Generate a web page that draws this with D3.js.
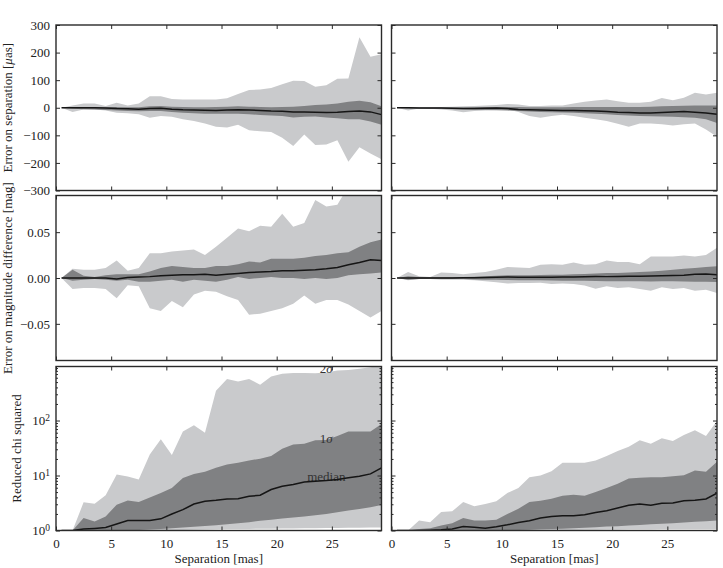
<!DOCTYPE html>
<html>
<head>
<meta charset="utf-8">
<script src="https://cdn.jsdelivr.net/npm/d3@7"></script>
<style>
  html, body { margin: 0; padding: 0; background: #fff; }
  svg text { font-family: "Liberation Serif", "Times New Roman", Times, "DejaVu Serif", serif; font-size: 13px; fill: #222; }
</style>
</head>
<body>
<svg id="chart" width="723" height="568"></svg>
<script>
// ---------------- DATA ----------------
const separation = [0.5, 1.5, 2.5, 3.5, 4.5, 5.5, 6.5, 7.5, 8.5, 9.5, 10.5, 11.5, 12.5, 13.5, 14.5,
  15.5, 16.5, 17.5, 18.5, 19.5, 20.5, 21.5, 22.5, 23.5, 24.5, 25.5, 26.5, 27.5, 28.5, 29.5];

// Error on separation [μas], left column
const sepL_hi2 = [0, 8, 15, 15, 6, 18, 8, 15, 42, 42, 32, 30, 30, 30, 30, 34, 50, 64, 66, 72, 85, 98, 97, 76, 82, 105, 106, 256, 185, 194];
const sepL_hi1 = [0, 3, 3, 2, 2, 3, 2, 2, 5, 6, 4, 3, 2, 2, 3, 4, 5, 4, 3, 2, 3, 4, 6, 10, 12, 15, 22, 25, 20, 5];
const sepL_med = [0, 0, 0, 0, -1, -3, -4, -5, -3, -2, -5, -7, -8, -9, -10, -8, -7, -8, -10, -12, -13, -15, -15, -16, -17, -16, -14, -12, -15, -25];
const sepL_lo1 = [0, -4, -5, -6, -8, -10, -12, -13, -12, -12, -15, -18, -20, -22, -22, -22, -22, -24, -26, -28, -30, -35, -33, -32, -35, -38, -42, -42, -50, -62];
const sepL_lo2 = [0, -15, -6, -6, -10, -18, -20, -24, -36, -30, -33, -42, -48, -57, -69, -72, -62, -82, -85, -88, -109, -139, -97, -135, -133, -118, -196, -143, -166, -187];

// Error on separation [μas], right column
const sepR_hi2 = [0, 2, 2, 2, 3, 4, 5, 6, 8, 10, 14, 12, 6, 6, 8, 8, 15, 22, 26, 30, 24, 18, 18, 22, 35, 27, 36, 54, 48, 54];
const sepR_hi1 = [0, 1, 1, 1, 1, 1, 1, 2, 3, 3, 3, 3, 2, 2, 2, 2, 3, 3, 3, 3, 3, 3, 3, 4, 5, 6, 7, 8, 8, 8];
const sepR_med = [0, 0, -1, -1, -1, -2, -3, -3, -2, -1, -3, -6, -7, -8, -9, -10, -10, -11, -12, -14, -16, -17, -19, -19, -17, -15, -14, -16, -19, -24];
const sepR_lo1 = [0, -3, -3, -4, -4, -5, -6, -7, -8, -9, -10, -12, -14, -15, -16, -17, -18, -20, -22, -24, -26, -28, -30, -31, -32, -33, -34, -36, -42, -55];
const sepR_lo2 = [0, -10, -3, -4, -6, -10, -16, -12, -10, -8, -6, -15, -30, -36, -30, -25, -30, -36, -42, -48, -58, -69, -57, -57, -60, -64, -60, -57, -79, -105];

// Error on magnitude difference [mag], left column
const magL_hi2 = [0, 0.010, 0.009, 0.009, 0.011, 0.019, 0.008, 0.011, 0.027, 0.027, 0.029, 0.030, 0.031, 0.025, 0.034, 0.044, 0.054, 0.051, 0.057, 0.056, 0.070, 0.056, 0.060, 0.085, 0.078, 0.080, 0.100, 0.105, 0.110, 0.110];
const magL_hi1 = [0, 0.009, 0.0025, 0.001, 0.003, 0.004, 0.004, 0.004, 0.007, 0.011, 0.013, 0.012, 0.011, 0.011, 0.013, 0.013, 0.015, 0.018, 0.017, 0.021, 0.021, 0.021, 0.022, 0.024, 0.025, 0.027, 0.028, 0.034, 0.039, 0.042];
const magL_med = [0, 0, 0, 0, 0, -0.001, 0.0005, 0.001, 0.0015, 0.0025, 0.003, 0.0035, 0.0035, 0.004, 0.003, 0.004, 0.005, 0.006, 0.0065, 0.007, 0.008, 0.008, 0.0085, 0.009, 0.010, 0.0115, 0.0145, 0.017, 0.020, 0.019];
const magL_lo1 = [0, -0.003, -0.002, -0.001, -0.002, -0.003, -0.002, -0.004, -0.004, -0.003, -0.002, -0.004, -0.002, -0.003, -0.004, -0.002, 0.001, -0.001, 0, 0.001, 0, 0, -0.001, 0, -0.001, 0, 0.003, 0.004, 0.005, 0.006];
const magL_lo2 = [0, -0.012, -0.011, -0.011, -0.012, -0.022, -0.008, -0.009, -0.033, -0.036, -0.025, -0.032, -0.018, -0.014, -0.015, -0.020, -0.024, -0.040, -0.039, -0.036, -0.033, -0.028, -0.019, -0.028, -0.024, -0.024, -0.029, -0.036, -0.043, -0.036];

// Error on magnitude difference [mag], right column
const magR_hi2 = [0, 0.0065, 0.002, 0.001, 0.006, 0.0055, 0.004, 0.0055, 0.0065, 0.009, 0.012, 0.0115, 0.011, 0.0145, 0.015, 0.0145, 0.017, 0.0145, 0.015, 0.019, 0.0175, 0.0175, 0.015, 0.0235, 0.0235, 0.0235, 0.0245, 0.0235, 0.025, 0.033];
const magR_hi1 = [0, 0.002, 0.001, 0.001, 0.001, 0.001, 0.0012, 0.0015, 0.002, 0.0025, 0.003, 0.003, 0.003, 0.0032, 0.0035, 0.0036, 0.004, 0.0045, 0.005, 0.0055, 0.0055, 0.006, 0.0065, 0.007, 0.008, 0.009, 0.010, 0.011, 0.012, 0.0127];
const magR_med = [0, 0, 0, 0, 0, 0, 0.0002, 0.0004, 0.0006, 0.0008, 0.001, 0.0009, 0.0008, 0.0008, 0.0009, 0.001, 0.0012, 0.0014, 0.0016, 0.0015, 0.0016, 0.0018, 0.002, 0.0022, 0.0024, 0.0026, 0.003, 0.004, 0.0043, 0.0036];
const magR_lo1 = [0, -0.002, -0.001, -0.001, -0.001, -0.001, -0.0012, -0.0015, -0.002, -0.002, -0.0022, -0.0025, -0.0025, -0.0025, -0.0028, -0.003, -0.003, -0.003, -0.0032, -0.0035, -0.0036, -0.0036, -0.0036, -0.0038, -0.0036, -0.0036, -0.0038, -0.004, -0.004, -0.0043];
const magR_lo2 = [0, -0.0025, -0.001, -0.001, -0.002, -0.002, -0.002, -0.0025, -0.0036, -0.0047, -0.006, -0.0055, -0.0055, -0.0052, -0.0065, -0.006, -0.0065, -0.0083, -0.0116, -0.009, -0.011, -0.010, -0.012, -0.0138, -0.010, -0.012, -0.011, -0.0138, -0.0127, -0.0163];

// Reduced chi squared, left column
const chiL_hi2 = [1, 1, 3.25, 3.07, 4.37, 10.4, 9.6, 8.45, 24.2, 45.5, 23.5, 63, 82, 60, 348, 570, 510, 570, 449, 630, 705, 735, 735, 720, 750, 810, 830, 870, 935, 1000];
const chiL_hi1 = [1, 1, 1.68, 1.46, 1.8, 2.95, 3.5, 3.3, 4.0, 4.8, 5.95, 9.0, 10.7, 11.7, 13.8, 15.9, 17.1, 18.8, 20.2, 22.6, 30.7, 36.8, 38, 43.7, 44, 52.5, 63, 63, 63, 86];
const chiL_med = [1, 1, 1.06, 1.09, 1.13, 1.31, 1.52, 1.52, 1.52, 1.63, 1.99, 2.39, 3.03, 3.39, 3.54, 3.74, 3.79, 4.18, 4.37, 5.55, 6.37, 6.84, 7.65, 7.87, 8.1, 8.45, 9.06, 9.74, 10.7, 13.8];
const chiL_lo1 = [1, 1, 1, 1, 1, 1, 1.01, 1.02, 1.04, 1.06, 1.1, 1.13, 1.17, 1.21, 1.25, 1.3, 1.35, 1.42, 1.5, 1.57, 1.65, 1.72, 1.8, 1.9, 2.0, 2.15, 2.3, 2.45, 2.65, 2.9];
const chiL_lo2 = [1, 1, 1, 1, 1, 1, 1, 1, 1, 1, 1.01, 1.02, 1.03, 1.04, 1.05, 1.06, 1.07, 1.07, 1.08, 1.08, 1.09, 1.09, 1.1, 1.1, 1.11, 1.11, 1.12, 1.12, 1.13, 1.13];

// Reduced chi squared, right column
const chiR_hi2 = [1, 1, 1.52, 1.42, 2.17, 2.23, 3.3, 2.75, 3.03, 3.39, 4.8, 5.95, 9.3, 10, 12.0, 17, 17, 17, 18.8, 22.6, 27.9, 33.5, 43.7, 38, 47.5, 42.4, 54.6, 66.5, 52.5, 98];
const chiR_hi1 = [1, 1, 1.07, 1.1, 1.23, 1.36, 1.68, 1.52, 1.52, 1.57, 1.99, 2.49, 3.3, 3.49, 3.79, 4.3, 4.49, 4.3, 5.03, 5.95, 7.05, 8.8, 9.06, 9.33, 9.33, 9.74, 10.1, 12.3, 11.7, 17.8];
const chiR_med = [1, 1, 1, 1.01, 1.03, 1.07, 1.18, 1.15, 1.1, 1.17, 1.27, 1.4, 1.5, 1.68, 1.8, 1.86, 1.86, 1.94, 2.13, 2.29, 2.56, 2.87, 3.03, 2.87, 3.12, 3.16, 3.49, 3.54, 3.74, 4.8];
const chiR_lo1 = [1, 1, 1, 1, 1, 1, 1, 1, 1, 1, 1.01, 1.02, 1.03, 1.05, 1.07, 1.08, 1.1, 1.12, 1.15, 1.18, 1.2, 1.23, 1.26, 1.3, 1.33, 1.36, 1.4, 1.44, 1.48, 1.52];
const chiR_lo2 = [1, 1, 1, 1, 1, 1, 1, 1, 1, 1, 1, 1, 1, 1.01, 1.01, 1.02, 1.02, 1.03, 1.03, 1.04, 1.04, 1.05, 1.05, 1.05, 1.06, 1.06, 1.06, 1.07, 1.07, 1.07];

// Tick labels
const xTicks = [0, 5, 10, 15, 20, 25];
const sepTicks = [-300, -200, -100, 0, 100, 200, 300];
const magTicks = [-0.05, 0.00, 0.05];
const chiTicks = [1, 10, 100];
const chiTickExp = ["0", "1", "2"];
const annotations = [
  { main: "2", sym: "σ", x: 24.5, y: 730 },
  { main: "1", sym: "σ", x: 24.5, y: 39 },
  { main: "median", sym: "", x: 24.5, y: 7.9 }
];

// ---------------- LAYOUT ----------------
const FONT = '"Liberation Serif", "Times New Roman", Times, "DejaVu Serif", serif';
const colX = [[56, 381.5], [391.5, 717]];
const rowY = [[25, 190.5], [195.5, 360.5], [366.5, 530.5]];
const LIGHT = "#c9cacc", DARK = "#808183", LINE = "#151515", FRAME = "#2a2a2a";

const svg = d3.select("#chart");
const defs = svg.append("defs");

const rows = [
  { type: "lin", domain: [-300, 300], ticks: sepTicks, fmt: d3.format("d"),
    data: [[sepL_lo2, sepL_lo1, sepL_med, sepL_hi1, sepL_hi2], [sepR_lo2, sepR_lo1, sepR_med, sepR_hi1, sepR_hi2]] },
  { type: "lin", domain: [-0.09, 0.09], ticks: magTicks, fmt: d3.format(".2f"),
    data: [[magL_lo2, magL_lo1, magL_med, magL_hi1, magL_hi2], [magR_lo2, magR_lo1, magR_med, magR_hi1, magR_hi2]] },
  { type: "log", domain: [1, 960], ticks: chiTicks,
    data: [[chiL_lo2, chiL_lo1, chiL_med, chiL_hi1, chiL_hi2], [chiR_lo2, chiR_lo1, chiR_med, chiR_hi1, chiR_hi2]] }
];

rows.forEach((row, ri) => {
  [0, 1].forEach(ci => {
    const [x0, x1] = colX[ci];
    const [y0, y1] = rowY[ri];
    const x = d3.scaleLinear().domain([0, 29.5]).range([x0, x1]);
    const y = (row.type === "log" ? d3.scaleLog() : d3.scaleLinear()).domain(row.domain).range([y1, y0]);
    const [lo2, lo1, med, hi1, hi2] = row.data[ci];
    const id = `clip-${ri}-${ci}`;
    defs.append("clipPath").attr("id", id).append("rect")
      .attr("x", x0).attr("y", y0).attr("width", x1 - x0).attr("height", y1 - y0);
    const g = svg.append("g").attr("clip-path", `url(#${id})`);

    const area = (lo, hi) => d3.area()
      .x((d, i) => x(separation[i]))
      .y0((d, i) => y(lo[i]))
      .y1((d, i) => y(hi[i]))(separation);

    g.append("path").attr("d", area(lo2, hi2)).attr("fill", LIGHT);
    g.append("path").attr("d", area(lo1, hi1)).attr("fill", DARK);

    if (ri === 2 && ci === 0) {
      annotations.forEach(a => {
        const t = g.append("text").attr("x", x(a.x)).attr("y", y(a.y))
          .attr("text-anchor", "middle").style("fill", "#333");
        t.append("tspan").text(a.main);
        if (a.sym) t.append("tspan").attr("font-style", "italic").text(a.sym);
      });
    }

    g.append("path")
      .attr("d", d3.line().x((d, i) => x(separation[i])).y((d, i) => y(med[i]))(separation))
      .attr("fill", "none").attr("stroke", LINE).attr("stroke-width", 1.5);

    // Axes (inward ticks on all sides)
    const styleAxis = sel => {
      sel.attr("font-family", FONT).attr("font-size", 13);
      sel.select(".domain").remove();
      sel.selectAll(".tick line").attr("stroke", FRAME).attr("stroke-width", 1);
      sel.selectAll(".tick text").attr("fill", "#222");
    };

    const bottom = d3.axisBottom(x).tickValues(xTicks).tickSize(-4).tickPadding(8);
    if (ri !== 2) bottom.tickFormat("");
    svg.append("g").attr("transform", `translate(0,${y1})`).call(bottom).call(styleAxis);
    svg.append("g").attr("transform", `translate(0,${y0})`)
      .call(d3.axisTop(x).tickValues(xTicks).tickSize(-4).tickFormat("")).call(styleAxis);

    const left = d3.axisLeft(y).tickValues(row.ticks).tickSize(-4).tickPadding(6);
    const right = d3.axisRight(y).tickValues(row.ticks).tickSize(-4).tickFormat("");
    if (ci === 1 || row.type === "log") left.tickFormat("");
    else left.tickFormat(row.fmt);
    svg.append("g").attr("transform", `translate(${x0},0)`).call(left).call(styleAxis);
    svg.append("g").attr("transform", `translate(${x1},0)`).call(right).call(styleAxis);

    if (row.type === "log") {
      const minors = [];
      [1, 10, 100].forEach(dec => { for (let k = 2; k <= 9; k++) { if (dec * k < row.domain[1]) minors.push(dec * k); } });
      svg.append("g").attr("transform", `translate(${x0},0)`)
        .call(d3.axisLeft(y).tickValues(minors).tickSize(-2).tickFormat("")).call(styleAxis);
      svg.append("g").attr("transform", `translate(${x1},0)`)
        .call(d3.axisRight(y).tickValues(minors).tickSize(-2).tickFormat("")).call(styleAxis);
      if (ci === 0) {
        chiTicks.forEach((v, i) => {
          const t = svg.append("text").attr("x", x0 - 6).attr("y", y(v)).attr("dy", "0.35em")
            .attr("text-anchor", "end");
          t.append("tspan").text("10");
          t.append("tspan").attr("dy", "-0.45em").style("font-size", "9.5px").text(chiTickExp[i]);
        });
      }
    }

    svg.append("rect").attr("x", x0).attr("y", y0).attr("width", x1 - x0).attr("height", y1 - y0)
      .attr("fill", "none").attr("stroke", FRAME).attr("stroke-width", 1.4);
  });
});

// Axis labels
const ylab1 = svg.append("text").attr("transform", `translate(11.8,${(rowY[0][0] + rowY[0][1]) / 2}) rotate(-90)`)
  .attr("text-anchor", "middle");
ylab1.append("tspan").text("Error on separation [");
ylab1.append("tspan").attr("font-style", "italic").text("μ");
ylab1.append("tspan").text("as]");

svg.append("text").attr("transform", `translate(11.8,${(rowY[1][0] + rowY[1][1]) / 2}) rotate(-90)`)
  .attr("text-anchor", "middle").text("Error on magnitude difference [mag]");

svg.append("text").attr("transform", `translate(20.5,${(rowY[2][0] + rowY[2][1]) / 2}) rotate(-90)`)
  .attr("text-anchor", "middle").text("Reduced chi squared");

colX.forEach(([a, b]) => {
  svg.append("text").attr("x", (a + b) / 2).attr("y", 563).attr("text-anchor", "middle").text("Separation [mas]");
});
</script>
</body>
</html>
